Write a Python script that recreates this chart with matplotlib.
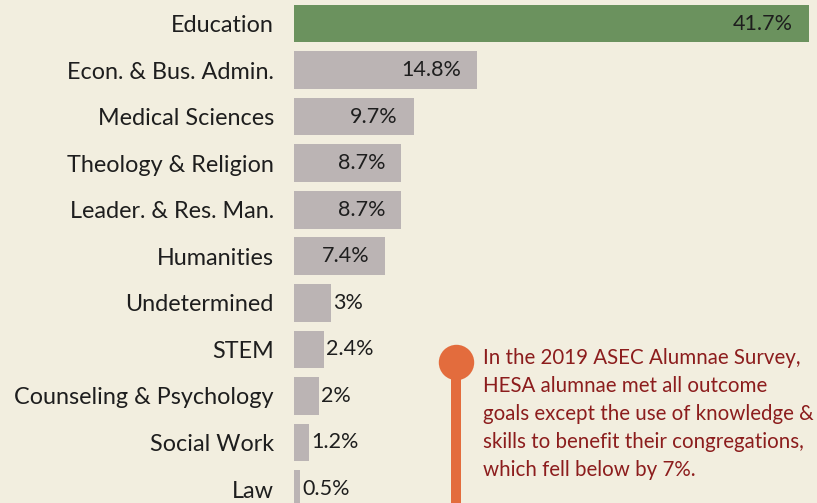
import matplotlib.pyplot as plt

# data
majors = ['Education', 'Econ. & Bus. Admin.', 'Medical Sciences', 'Theology & Religion',
          'Leader. & Res. Man.', 'Humanities', 'Undetermined', 'STEM',
          'Counseling & Psychology', 'Social Work', 'Law']
shares = [41.7, 14.8, 9.7, 8.7, 8.7, 7.4, 3, 2.4, 2, 1.2, 0.5]
share_labels = ['41.7%', '14.8%', '9.7%', '8.7%', '8.7%', '7.4%', '3%', '2.4%', '2%', '1.2%', '0.5%']

note = ("In the 2019 ASEC Alumnae Survey,\n"
        "HESA alumnae met all outcome\n"
        "goals except the use of knowledge &\n"
        "skills to benefit their congregations,\n"
        "which fell below by 7%.")

bg = '#f2eedf'
green = '#6b925e'
grey = '#bbb4b4'
orange = '#e36c3d'
darkred = '#8c1d1d'

plt.rcParams['font.family'] = ['Lato', 'DejaVu Sans']

fig = plt.figure(figsize=(8.17, 5.03), dpi=100)
fig.patch.set_facecolor(bg)
ax = fig.add_axes([294 / 817, 0, 523 / 817, 1])
ax.set_facecolor(bg)

ypos = list(range(len(majors)))
colors = [green] + [grey] * (len(majors) - 1)
ax.barh(ypos, shares, height=0.81, color=colors)

ax.set_xlim(0, 523 / 12.35)
ax.set_ylim(10.3, -0.505)

ax.set_yticks(ypos)
ax.set_yticklabels(majors, fontsize=16.8, color='#1e1e1e')
ax.tick_params(axis='y', length=0, pad=14.5)
ax.set_xticks([])
for s in ax.spines.values():
    s.set_visible(False)

# value labels: inside for longer bars, just after for short ones
for y, v, lab in zip(ypos, shares, share_labels):
    if v > 5:
        ax.annotate(lab, (v, y), xytext=(-16, 0), textcoords='offset pixels',
                    ha='right', va='center', fontsize=15.5, color='#1e1e1e')
    else:
        ax.annotate(lab, (v, y), xytext=(2, 0), textcoords='offset pixels',
                    ha='left', va='center', fontsize=15.5, color='#1e1e1e')

# callout
cx, cy = 13.12, 7.27
ax.plot([cx, cx], [cy, 10.5], color=orange, lw=7.2, solid_capstyle='butt', clip_on=True)
ax.plot([cx], [cy], 'o', color=orange, markersize=25.5, markeredgewidth=0)
ax.text(15.3, 6.97, note, ha='left', va='top', fontsize=14.8, color=darkred, linespacing=1.5)

plt.savefig('out.png', facecolor=bg)
